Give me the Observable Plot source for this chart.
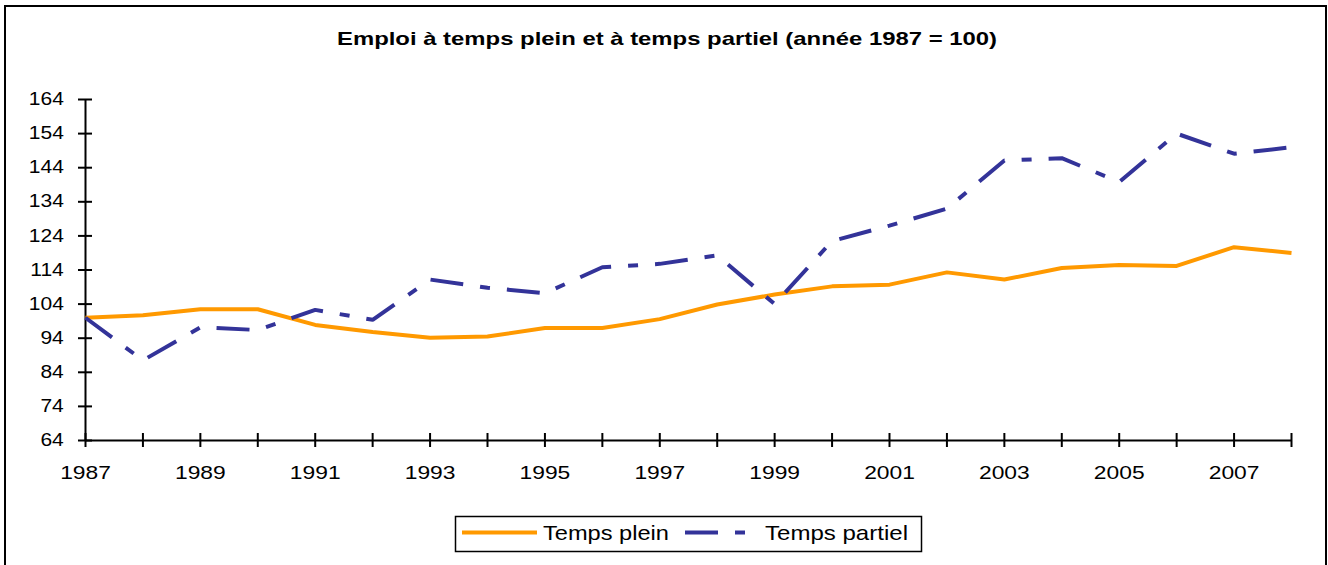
<!DOCTYPE html>
<html>
<head>
<meta charset="utf-8">
<script src="https://cdn.jsdelivr.net/npm/d3@7"></script>
<script src="https://cdn.jsdelivr.net/npm/@observablehq/plot@0.6"></script>
<style>
  html, body { margin: 0; padding: 0; background: #fff; }
  #wrap { position: relative; width: 1328px; height: 565px; overflow: hidden; background: #fff; font-family: "Liberation Sans", Arial, sans-serif; }
  #frame { position: absolute; left: 4px; top: 5px; width: 1323px; height: 620px; border: 2.5px solid #000; box-sizing: border-box; }
  #chart { position: absolute; left: 0; top: 0; }
  #overlay { position: absolute; left: 0; top: 0; pointer-events: none; }
</style>
</head>
<body>
<div id="wrap">
  <div id="frame"></div>
  <div id="chart"></div>
  <svg id="overlay" width="1328" height="565" xmlns="http://www.w3.org/2000/svg"></svg>
</div>
<script>
// ---- Data (index 1987 = 100) ----
const years = [1987, 1988, 1989, 1990, 1991, 1992, 1993, 1994, 1995, 1996, 1997,
               1998, 1999, 2000, 2001, 2002, 2003, 2004, 2005, 2006, 2007, 2008];
const tempsPlein = [100, 100.7, 102.5, 102.5, 97.9, 95.8, 94.1, 94.5, 97.0, 97.0, 99.6,
                    103.9, 106.8, 109.2, 109.7, 113.3, 111.2, 114.6, 115.5, 115.2, 120.7, 119.0];
const tempsPartiel = [100, 87.5, 97.2, 96.4, 102.3, 99.4, 111.2, 108.8, 107.2, 114.8, 115.8,
                      118.3, 104.0, 122.5, 127.0, 132.0, 146.1, 146.8, 139.8, 154.0, 148.1, 150.0];
const yTicks = [64, 74, 84, 94, 104, 114, 124, 134, 144, 154, 164];
const xTickLabels = [1987, 1989, 1991, 1993, 1995, 1997, 1999, 2001, 2003, 2005, 2007];
const seriesNames = ["Temps plein", "Temps partiel"];
const title = "Emploi à temps plein et à temps partiel (année 1987 = 100)";

const data = years.map((year, i) => ({year, plein: tempsPlein[i], partiel: tempsPartiel[i]}));
const orange = "#FF9900";
const blue = "#333399";

const chart = Plot.plot({
  width: 1328, height: 500, marginTop: 99, marginBottom: 60, marginLeft: 85, marginRight: 37,
  x: {domain: [1987, 2008]},
  y: {domain: [64, 164]},
  style: {fontFamily: "'Liberation Sans', Arial, sans-serif", fontSize: "18px", color: "#000", background: "transparent", overflow: "visible"},
  marks: [
    Plot.ruleY([64], {stroke: "#000", strokeWidth: 2}),
    Plot.ruleX([1987], {stroke: "#000", strokeWidth: 2}),
    Plot.axisX({ticks: years, tickSize: 14, dy: -7, tickPadding: 17.5, strokeWidth: 2, fontSize: 19, label: null,
      tickFormat: d => xTickLabels.includes(d) ? String(d) : ""}),
    Plot.axisY({ticks: yTicks, tickSize: 14, dx: 7, tickPadding: 14.7, strokeWidth: 2, fontSize: 17.5, label: null,
      tickFormat: d => String(d)}),
    Plot.line(data, {x: "year", y: "plein", stroke: orange, strokeWidth: 4, strokeLinejoin: "round", strokeLinecap: "butt"}),
    Plot.line(data, {x: "year", y: "partiel", stroke: blue, strokeWidth: 4, strokeLinejoin: "miter", strokeLinecap: "butt", strokeDasharray: "33,17,10,17"})
  ]
});
document.getElementById("chart").appendChild(chart);

// widen the tick labels horizontally, as in the reference
function stretch(el, k) {
  const L = el.getComputedTextLength();
  if (L > 0) { el.setAttribute("textLength", (L * k).toFixed(2)); el.setAttribute("lengthAdjust", "spacingAndGlyphs"); }
}
chart.querySelectorAll("text").forEach(t => stretch(t, 1.2));

// ---- Title and legend ----
const ov = d3.select("#overlay");
const fam = "'Liberation Sans', Arial, sans-serif";
ov.append("text").attr("x", 667).attr("y", 45).attr("text-anchor", "middle")
  .attr("font-family", fam).attr("font-size", 18.5).attr("font-weight", "bold").attr("fill", "#000")
  .attr("textLength", 660).attr("lengthAdjust", "spacingAndGlyphs").text(title);
const lg = ov.append("g");
lg.append("rect").attr("x", 455.5).attr("y", 516.5).attr("width", 466).attr("height", 35).attr("fill", "#fff").attr("stroke", "#000").attr("stroke-width", 1.5);
lg.append("line").attr("x1", 462).attr("x2", 537).attr("y1", 532.5).attr("y2", 532.5).attr("stroke", orange).attr("stroke-width", 4);
lg.append("line").attr("x1", 685).attr("x2", 745).attr("y1", 532.5).attr("y2", 532.5).attr("stroke", blue).attr("stroke-width", 4).attr("stroke-dasharray", "33,17,10,17");
lg.append("text").attr("x", 543).attr("y", 540).attr("font-family", fam).attr("font-size", 21).attr("fill", "#000").attr("textLength", 126).attr("lengthAdjust", "spacingAndGlyphs").text(seriesNames[0]);
lg.append("text").attr("x", 765).attr("y", 540).attr("font-family", fam).attr("font-size", 21).attr("fill", "#000").attr("textLength", 143).attr("lengthAdjust", "spacingAndGlyphs").text(seriesNames[1]);
</script>
</body>
</html>
